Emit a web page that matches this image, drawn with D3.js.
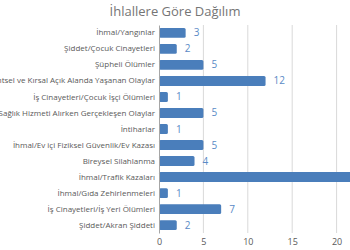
<!DOCTYPE html>
<html>
<head>
<meta charset="utf-8">
<script src="https://cdn.jsdelivr.net/npm/d3@7"></script>
<style>
  body { margin: 0; background: #fff; }
  text { font-family: "Open Sans", sans-serif; }
</style>
</head>
<body>
<div id="chart"></div>
<script>
var categories = [
  "İhmal/Yangınlar",
  "Şiddet/Çocuk Cinayetleri",
  "Şüpheli Ölümler",
  "Kentsel ve Kırsal Açık Alanda Yaşanan Olaylar",
  "İş Cinayetleri/Çocuk İşçi Ölümleri",
  "Sağlık Hizmeti Alırken Gerçekleşen Olaylar",
  "İntiharlar",
  "İhmal/Ev içi Fiziksel Güvenlik/Ev Kazası",
  "Bireysel Silahlanma",
  "İhmal/Trafik Kazaları",
  "İhmal/Gıda Zehirlenmeleri",
  "İş Cinayetleri/İş Yeri Ölümleri",
  "Şiddet/Akran Şiddeti"
];
var values = [3, 2, 5, 12, 1, 5, 1, 5, 4, 22, 1, 7, 2];
var ticks = [0, 5, 10, 15, 20];

var margin = {top: 25, right: 0, bottom: 17, left: 159},
    width = 350 - margin.left - margin.right,
    height = 250 - margin.top - margin.bottom;

var svg = d3.select("#chart")
  .append("svg")
    .attr("width", 350)
    .attr("height", 250)
  .append("g")
    .attr("transform", "translate(" + margin.left + "," + margin.top + ")");

// axis runs to 25, past the right edge of the picture
var x = d3.scaleLinear()
  .domain([0, 25])
  .range([0, 222]);

var y = d3.scaleBand()
  .domain(categories)
  .range([0, height])
  .paddingInner(0.38)
  .paddingOuter(0.18);

// gridlines
svg.selectAll(".grid")
  .data(ticks.slice(1))
  .enter()
  .append("line")
    .attr("x1", function(d) { return x(d); })
    .attr("x2", function(d) { return x(d); })
    .attr("y1", 0)
    .attr("y2", height)
    .attr("stroke", "#d9d9d9")
    .attr("stroke-width", 1);

// x axis labels
var xAxis = svg.append("g")
  .attr("transform", "translate(0," + height + ")")
  .call(d3.axisBottom(x).tickValues(ticks).tickSize(0).tickPadding(6));
xAxis.select(".domain").remove();
xAxis.selectAll("text")
  .attr("fill", "#595959")
  .style("font-size", "9px");

// bars
svg.selectAll(".bar")
  .data(values)
  .enter()
  .append("rect")
    .attr("x", 0)
    .attr("y", function(d, i) { return y(categories[i]); })
    .attr("width", function(d) { return x(d); })
    .attr("height", y.bandwidth())
    .attr("rx", 1.5)
    .attr("fill", "#4a7ebb");

// value labels
svg.selectAll(".val")
  .data(values)
  .enter()
  .append("text")
    .text(function(d) { return d; })
    .attr("x", function(d) { return x(d) + 8; })
    .attr("y", function(d, i) { return y(categories[i]) + y.bandwidth() / 2; })
    .attr("dy", "0.35em")
    .attr("fill", "#5a8ac6")
    .style("font-size", "10px");

// y axis
var yAxis = svg.append("g")
  .call(d3.axisLeft(y).tickSize(0).tickPadding(4));
yAxis.select(".domain")
  .attr("stroke", "#a6a6a6");
yAxis.selectAll("text")
  .attr("fill", "#595959")
  .style("font-size", "8px");

// title
svg.append("text")
  .text("İhlallere Göre Dağılım")
  .attr("text-anchor", "middle")
  .attr("x", 175 - margin.left)
  .attr("y", 16 - margin.top)
  .attr("fill", "#757575")
  .style("font-size", "13px");
</script>
</body>
</html>
